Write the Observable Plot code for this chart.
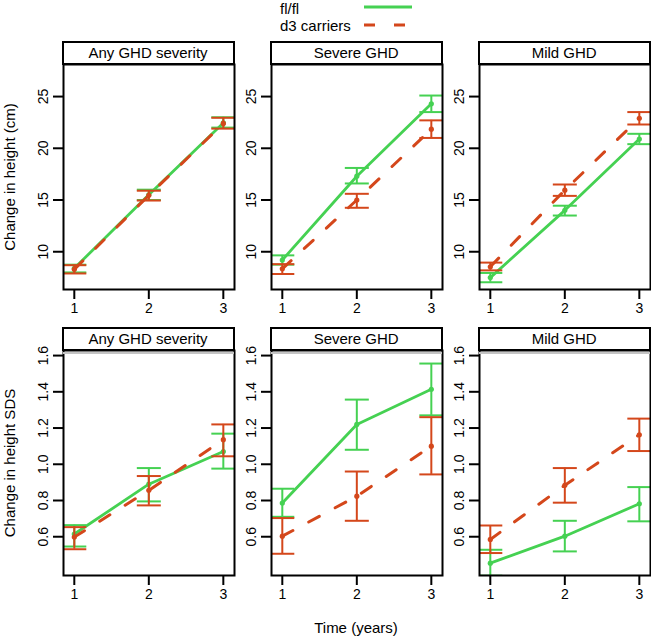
<!DOCTYPE html>
<html>
<head>
<meta charset="utf-8">
<script src="https://cdn.jsdelivr.net/npm/d3@7"></script>
<script src="https://cdn.jsdelivr.net/npm/@observablehq/plot@0.6"></script>
<style>
  html, body { margin: 0; padding: 0; background: white; }
  #chart { position: relative; width: 651px; height: 637px; background: white;
           font-family: "Liberation Sans", Arial, Helvetica, sans-serif; color: black; overflow: hidden; }
  .abs { position: absolute; }
  .strip { position: absolute; box-sizing: border-box; border: 2px solid black; font-size: 15px;
           text-align: center; line-height: 20px; background: white; }
  .ytitle { position: absolute; font-size: 15px; text-align: center; white-space: nowrap;
            transform: rotate(-90deg); transform-origin: center center; line-height: 18px; height: 18px; }
  .legtext { position: absolute; font-size: 15px; line-height: 18px; white-space: nowrap; }
</style>
</head>
<body>
<div id="chart"></div>
<script>
// ---------- data ----------
const time = [1, 2, 3];
const panelNames = ["Any GHD severity", "Severe GHD", "Mild GHD"];
const groupNames = ["fl/fl", "d3 carriers"];
const xTickValues = [1, 2, 3];
const cmTickValues = [10, 15, 20, 25];
const sdsTickValues = [0.6, 0.8, 1.0, 1.2, 1.4, 1.6];
const rowTitles = ["Change in height (cm)", "Change in height SDS"];
const xTitle = "Time (years)";

// Change in height (cm)
const anyFlCm     = [8.4, 15.5, 22.45];
const anyFlCmLo   = [8.0, 15.0, 22.0];
const anyFlCmHi   = [8.75, 16.0, 23.0];
const anyD3Cm     = [8.3, 15.45, 22.4];
const anyD3CmLo   = [7.9, 14.95, 21.9];
const anyD3CmHi   = [8.7, 15.9, 22.95];
const sevFlCm     = [9.2, 17.3, 24.3];
const sevFlCmLo   = [8.75, 16.6, 23.5];
const sevFlCmHi   = [9.65, 18.1, 25.1];
const sevD3Cm     = [8.35, 15.0, 21.85];
const sevD3CmLo   = [7.85, 14.25, 21.0];
const sevD3CmHi   = [8.8, 15.6, 22.7];
const mildFlCm    = [7.5, 14.0, 20.9];
const mildFlCmLo  = [7.05, 13.5, 20.4];
const mildFlCmHi  = [7.95, 14.45, 21.4];
const mildD3Cm    = [8.55, 15.95, 22.9];
const mildD3CmLo  = [8.2, 15.4, 22.3];
const mildD3CmHi  = [8.95, 16.5, 23.5];

// Change in height SDS
const anyFlSds    = [0.615, 0.89, 1.07];
const anyFlSdsLo  = [0.546, 0.795, 0.976];
const anyFlSdsHi  = [0.664, 0.979, 1.169];
const anyD3Sds    = [0.598, 0.856, 1.136];
const anyD3SdsLo  = [0.531, 0.773, 1.044];
const anyD3SdsHi  = [0.653, 0.935, 1.22];
const sevFlSds    = [0.786, 1.22, 1.414];
const sevFlSdsLo  = [0.71, 1.08, 1.27];
const sevFlSdsHi  = [0.865, 1.357, 1.556];
const sevD3Sds    = [0.603, 0.824, 1.10];
const sevD3SdsLo  = [0.506, 0.688, 0.944];
const sevD3SdsHi  = [0.703, 0.96, 1.26];
const mildFlSds   = [0.454, 0.603, 0.782];
const mildFlSdsLo = [0.385, 0.519, 0.685];
const mildFlSdsHi = [0.528, 0.688, 0.874];
const mildD3Sds   = [0.585, 0.884, 1.163];
const mildD3SdsLo = [0.51, 0.788, 1.073];
const mildD3SdsHi = [0.662, 0.979, 1.252];

// ---------- styling ----------
const colors = {"fl/fl": "#45d152", "d3 carriers": "#d4471b"};
const font = "'Liberation Sans', Arial, Helvetica, sans-serif";
const panelLeft = [62.5, 270.7, 478.7];
const rowFrameTop = [64, 350];
const PW = 171, PH = 225, ML = 40, MR = 4, MT = 4, MB = 36;
const xDomain = [0.855, 3.15];
const yDomains = [[6.35, 28.1], [0.386, 1.628]];

function rows(mean, lo, hi) {
  return time.map((t, i) => ({t, mean: mean[i], lo: lo[i], hi: hi[i]}));
}
const cmData = [
  [rows(anyFlCm, anyFlCmLo, anyFlCmHi), rows(anyD3Cm, anyD3CmLo, anyD3CmHi)],
  [rows(sevFlCm, sevFlCmLo, sevFlCmHi), rows(sevD3Cm, sevD3CmLo, sevD3CmHi)],
  [rows(mildFlCm, mildFlCmLo, mildFlCmHi), rows(mildD3Cm, mildD3CmLo, mildD3CmHi)]
];
const sdsData = [
  [rows(anyFlSds, anyFlSdsLo, anyFlSdsHi), rows(anyD3Sds, anyD3SdsLo, anyD3SdsHi)],
  [rows(sevFlSds, sevFlSdsLo, sevFlSdsHi), rows(sevD3Sds, sevD3SdsLo, sevD3SdsHi)],
  [rows(mildFlSds, mildFlSdsLo, mildFlSdsHi), rows(mildD3Sds, mildD3SdsLo, mildD3SdsHi)]
];

const hline = {
  draw(ctx, size) {
    const r = Math.sqrt(size / Math.PI);
    ctx.moveTo(-r, 0); ctx.lineTo(r, 0);
  }
};

function groupMarks(data, g) {
  const c = colors[g];
  const dashed = g === "d3 carriers";
  return [
    Plot.ruleX(data, {x: "t", y1: "lo", y2: "hi", stroke: c, strokeWidth: 2, clip: true}),
    Plot.dot(data, {x: "t", y: "lo", symbol: hline, r: 12, fill: "none", stroke: c, strokeWidth: 2, clip: true}),
    Plot.dot(data, {x: "t", y: "hi", symbol: hline, r: 12, fill: "none", stroke: c, strokeWidth: 2, clip: true}),
    Plot.line(data, {x: "t", y: "mean", stroke: c, strokeWidth: dashed ? 3 : 2.8,
      strokeDasharray: dashed ? "12,18" : null, strokeLinecap: dashed ? "round" : "butt", clip: true}),
    Plot.dot(data, {x: "t", y: "mean", r: 2.6, fill: c, stroke: "none", clip: true})
  ];
}

function panel(pair, yDomain, yTicks, fmt) {
  return Plot.plot({
    width: ML + PW + MR, height: MT + PH + MB,
    marginLeft: ML, marginRight: MR, marginTop: MT, marginBottom: MB,
    x: {domain: xDomain},
    y: {domain: yDomain},
    style: {fontFamily: font, fontSize: "14px", background: "transparent", color: "black", overflow: "visible"},
    marks: [
      ...groupMarks(pair[0], groupNames[0]),
      ...groupMarks(pair[1], groupNames[1]),
      Plot.axisX(xTickValues, {tickSize: 10, tickPadding: 4, strokeWidth: 2, label: null, fontSize: 14}),
      Plot.axisY(yTicks, {tickSize: 10, tickPadding: 6, tickRotate: -90, strokeWidth: 2, label: null,
        tickFormat: fmt, fontSize: 14}),
      Plot.frame({stroke: "black", strokeWidth: 2})
    ]
  });
}

const chart = document.getElementById("chart");
function place(el, left, top) {
  el.style.position = "absolute";
  el.style.left = left + "px";
  el.style.top = top + "px";
  chart.appendChild(el);
}

[cmData, sdsData].forEach((rowData, r) => {
  const ticks = r === 0 ? cmTickValues : sdsTickValues;
  const fmt = r === 0 ? d3.format("d") : d3.format(".1f");
  rowData.forEach((pair, p) => {
    const svg = panel(pair, yDomains[r], ticks, fmt);
    place(svg, panelLeft[p] - ML, rowFrameTop[r] - MT);
    const strip = document.createElement("div");
    strip.className = "strip";
    strip.textContent = panelNames[p];
    strip.style.width = (PW + 2) + "px";
    strip.style.height = "24px";
    place(strip, panelLeft[p] - 1, rowFrameTop[r] - 23);
    if (r === 1) {
      const g = document.createElement("div");
      g.style.width = PW + "px";
      g.style.height = "1.5px";
      g.style.background = "#c4c4c4";
      place(g, panelLeft[p], rowFrameTop[r] + 2);
    }
  });
  const t = document.createElement("div");
  t.className = "ytitle";
  t.textContent = rowTitles[r];
  t.style.width = PH + "px";
  place(t, 9.5 - PH / 2, rowFrameTop[r] + PH / 2 - 9);
});

const xt = document.createElement("div");
xt.className = "legtext";
xt.textContent = xTitle;
xt.style.width = "200px";
xt.style.textAlign = "center";
place(xt, 356 - 100, 619);

// legend
groupNames.forEach((g, i) => {
  const d = document.createElement("div");
  d.className = "legtext";
  d.textContent = g;
  place(d, 280, i === 0 ? 0 : 17);
});
const ns = "http://www.w3.org/2000/svg";
const lsvg = document.createElementNS(ns, "svg");
lsvg.setAttribute("width", 60);
lsvg.setAttribute("height", 34);
groupNames.forEach((g, i) => {
  const ln = document.createElementNS(ns, "line");
  ln.setAttribute("x1", 2); ln.setAttribute("x2", 50);
  ln.setAttribute("y1", i === 0 ? 7 : 25); ln.setAttribute("y2", i === 0 ? 7 : 25);
  ln.setAttribute("stroke", colors[g]);
  ln.setAttribute("stroke-width", i === 0 ? 2.8 : 3);
  if (i === 1) ln.setAttribute("stroke-dasharray", "11,19");
  lsvg.appendChild(ln);
});
place(lsvg, 362, 0);
</script>
</body>
</html>
